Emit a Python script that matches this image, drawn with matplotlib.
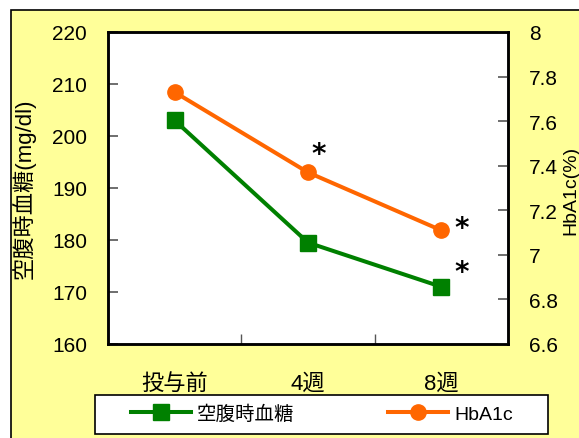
import matplotlib.pyplot as plt
from matplotlib.patches import Rectangle

plt.rcParams["font.family"] = ["Liberation Sans", "Noto Sans CJK JP", "DejaVu Sans"]

# Values read per time point
timepoints = ["投与前", "4週", "8週"]
glucose = [203, 179.5, 171]        # 空腹時血糖 (mg/dl)
hba1c = [7.73, 7.37, 7.11]         # HbA1c (%)

glucose_ticks = [160, 170, 180, 190, 200, 210, 220]
hba1c_ticks = [6.6, 6.8, 7.0, 7.2, 7.4, 7.6, 7.8, 8.0]
hba1c_labels = ["6.6", "6.8", "7", "7.2", "7.4", "7.6", "7.8", "8"]

GREEN = "#008000"
ORANGE = "#FF6600"
PANEL = "#FFFF99"

W, H = 579, 439
fig = plt.figure(figsize=(W / 100, H / 100), dpi=100, facecolor="white")

# yellow panel with black outline, behind everything
fig.patches.append(Rectangle((11 / W, -0.1), 1.2, (H - 11) / H + 0.1,
                             transform=fig.transFigure, facecolor=PANEL,
                             edgecolor="black", linewidth=1.2, zorder=-5))

ax = fig.add_axes([108 / W, (H - 345) / H, 400 / W, 312 / H])
ax.set_facecolor("white")
ax2 = ax.twinx()

x = list(range(len(timepoints)))
l1, = ax.plot(x, glucose, color=GREEN, lw=2.9, marker="s", ms=11,
              markeredgecolor=GREEN, label="空腹時血糖", zorder=3)
l2, = ax2.plot(x, hba1c, color=ORANGE, lw=2.9, marker="o", ms=11,
               markeredgecolor=ORANGE, label="HbA1c", zorder=3)

ax.set_xlim(-0.5, 2.5)
ax.set_ylim(160, 220)
ax2.set_ylim(6.6, 8.0)

ax.set_yticks(glucose_ticks)
ax2.set_yticks(hba1c_ticks)
ax2.set_yticklabels(hba1c_labels)

ax.set_xticks(x)
ax.set_xticklabels(timepoints)
ax.set_xticks([0.5, 1.5], minor=True)
ax.tick_params(axis="x", which="major", length=0, pad=21, labelsize=16)
ax.tick_params(axis="x", which="minor", direction="in", length=7,
               color="#555555", width=1)
ax.tick_params(axis="y", direction="in", length=7, color="#555555",
               width=1.2, pad=15, labelsize=15)
ax2.tick_params(axis="y", direction="in", length=7, color="#555555",
                width=1.2, pad=15, labelsize=15)

for sp in list(ax.spines.values()) + list(ax2.spines.values()):
    sp.set_linewidth(1.8)
    sp.set_color("black")

ax.set_ylabel("空腹時血糖(mg/dl)", fontsize=16)
ax.yaxis.set_label_coords(-0.18, 0.5)
ax2.set_ylabel("HbA1c(%)", fontsize=14)
ax2.yaxis.set_label_coords(1.135, 0.494)

# significance marks
star = dict(fontsize=20, fontweight="bold", ha="center", va="center",
            textcoords="offset points", family="DejaVu Sans")
ax2.annotate("*", (1, hba1c[1]), xytext=(8, 13), **star)
ax2.annotate("*", (2, hba1c[2]), xytext=(15, 2), **star)
ax.annotate("*", (2, glucose[2]), xytext=(15, 11), **star)

# legend box under the plot
fig.patches.append(Rectangle((95 / W, (H - 435) / H), 453 / W, 39 / H,
                             transform=fig.transFigure, facecolor="white",
                             edgecolor="black", linewidth=1.2, zorder=1))
fig.legend([l1, l2], ["空腹時血糖", "HbA1c"], ncol=2, frameon=False,
           loc="center", bbox_to_anchor=(322 / W, (H - 415) / H),
           fontsize=14, handlelength=3.1, handletextpad=0.3,
           columnspacing=4.8, borderpad=0)

fig.savefig("out.png", dpi=100, facecolor="white")
